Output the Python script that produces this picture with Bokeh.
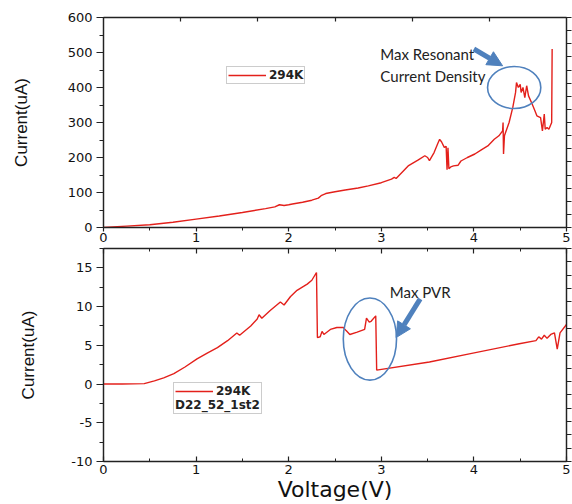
from bokeh.plotting import figure
from bokeh.models import (Range1d, LinearAxis, FixedTicker, Legend, LegendItem,
                          Arrow, NormalHead, Label, CustomJSTickFormatter)
from bokeh.layouts import column
from bokeh.embed import file_html
from bokeh.resources import INLINE

# ---------------- data ----------------
series_name = "294K"
sample_name = "D22_52_1st2"

top_v = [0.00, 0.25, 0.50, 0.75, 1.00, 1.25, 1.50, 1.75, 1.85, 1.90,
         1.95, 2.00, 2.04, 2.15, 2.25, 2.32, 2.35, 2.40, 2.50, 2.61,
         2.75, 2.86, 3.00, 3.11, 3.14, 3.16, 3.29, 3.40, 3.47, 3.50,
         3.52, 3.57, 3.61, 3.63, 3.65, 3.68, 3.70, 3.71, 3.72, 3.73,
         3.75, 3.78, 3.83, 3.86, 3.93, 4.01, 4.08, 4.15, 4.22, 4.27,
         4.31, 4.315, 4.32, 4.33, 4.34, 4.38, 4.42, 4.45, 4.46, 4.48,
         4.50, 4.51, 4.53, 4.55, 4.57, 4.59, 4.63, 4.66, 4.68, 4.72,
         4.74, 4.76, 4.77, 4.79, 4.81, 4.84, 4.845]
top_i = [0, 4, 8, 15, 24, 33, 43, 54, 59, 65,
         63, 65, 67, 72, 78, 84, 91, 97, 102, 107,
         113, 119, 128, 138, 143, 140, 176, 193, 205, 200,
         191, 214, 240, 252, 245, 229, 232, 165, 228, 168,
         173, 176, 178, 190, 200, 210, 222, 233, 252, 262,
         276, 300, 210, 262, 270, 300, 343, 386, 414, 400,
         409, 386, 400, 371, 405, 376, 352, 333, 319, 314,
         276, 324, 281, 286, 281, 300, 510]

bot_v = [0.00, 0.20, 0.44, 0.55, 0.65, 0.76, 0.88, 1.01, 1.12, 1.23,
         1.34, 1.44, 1.47, 1.59, 1.66, 1.68, 1.71, 1.80, 1.91, 1.95,
         2.02, 2.09, 2.16, 2.20, 2.25, 2.30, 2.31, 2.34, 2.36, 2.38,
         2.45, 2.52, 2.59, 2.62, 2.66, 2.74, 2.82, 2.84, 2.87, 2.89,
         2.94, 2.95, 3.52, 3.95, 4.49, 4.67, 4.70, 4.73, 4.76, 4.79,
         4.83, 4.87, 4.90, 4.93, 5.00]
bot_i = [0.0, 0.0, 0.05, 0.4, 0.8, 1.35, 2.2, 3.25, 4.0, 4.7,
         5.6, 6.6, 6.3, 7.5, 8.4, 8.95, 8.5, 9.5, 10.6, 10.2,
         11.3, 12.1, 12.6, 12.9, 13.4, 14.4, 6.0, 6.1, 6.8, 6.4,
         7.05, 7.3, 7.3, 6.9, 6.4, 6.7, 7.05, 8.5, 8.0, 8.1,
         8.8, 1.8, 2.85, 3.9, 5.2, 5.6, 6.1, 5.8, 6.3, 5.9,
         6.4, 6.6, 4.5, 6.6, 7.7]

x_ticks = [0, 1, 2, 3, 4, 5]
top_y_ticks = [0, 100, 200, 300, 400, 500, 600]
bot_y_ticks = [-10, -5, 0, 5, 10, 15]

# ---------------- style ----------------
RED = "#e3201b"
BLUE = "#4f81bd"
TICK_FONT = "DejaVu Sans"
AX_COLOR = "#222222"


def midpoints(t):
    return [(a + b) / 2 for a, b in zip(t[:-1], t[1:])]


def make_axis(ticks, minor, labels=True, tin=0, tout=0, mtin=0, mtout=0, standoff=3):
    ax = LinearAxis(ticker=FixedTicker(ticks=ticks, minor_ticks=minor))
    ax.major_tick_in = tin
    ax.major_tick_out = tout
    ax.minor_tick_in = mtin
    ax.minor_tick_out = mtout
    ax.axis_line_color = AX_COLOR
    ax.axis_line_width = 1.3
    ax.major_tick_line_color = AX_COLOR
    ax.minor_tick_line_color = AX_COLOR
    ax.major_tick_line_width = 1.2
    ax.minor_tick_line_width = 1.0
    if labels:
        ax.formatter = CustomJSTickFormatter(code="return tick.toFixed(0)")
        ax.major_label_text_font = TICK_FONT
        ax.major_label_text_font_size = "13px"
        ax.major_label_text_color = "#111111"
        ax.major_label_standoff = standoff
    else:
        ax.formatter = CustomJSTickFormatter(code="return ''")
        ax.major_label_text_font_size = "0px"
        ax.major_label_standoff = 0
    return ax


def split_ticks(lo, hi, n):
    step = (hi - lo) / n
    pts = [lo + k * step for k in range(n + 1)]
    return pts[::2], pts[1::2]


def base_fig(h, xr, yr, left, right, top, bottom):
    p = figure(width=572, height=h, x_range=xr, y_range=yr,
               toolbar_location=None, output_backend="svg",
               x_axis_location=None, y_axis_location=None,
               min_border_left=left, min_border_right=right,
               min_border_top=top, min_border_bottom=bottom)
    p.grid.visible = False
    p.outline_line_color = AX_COLOR
    p.outline_line_width = 1.2
    p.background_fill_color = "white"
    p.border_fill_color = "white"
    return p


def legend_common():
    return dict(padding=1, margin=0, spacing=0,
                glyph_width=38, glyph_height=12, label_standoff=3, label_height=12,
                label_text_font=TICK_FONT, label_text_font_size="12px",
                label_text_font_style="bold", label_text_color="#222222",
                border_line_color="#9a9a9a", border_line_width=1,
                background_fill_color="white", background_fill_alpha=1)


def style_ylabel(ax, standoff):
    ax.axis_label = "Current(uA)"
    ax.axis_label_text_font = "Liberation Sans"
    ax.axis_label_text_font_size = "17px"
    ax.axis_label_text_font_style = "normal"
    ax.axis_label_text_color = "#111111"
    ax.axis_label_standoff = standoff


# ================= top panel =================
p1 = base_fig(244, Range1d(0, 5), Range1d(0, 600), 100, 6, 17, 17)

b1 = make_axis(x_ticks, midpoints(x_ticks), tout=4, mtout=3, standoff=1)
p1.add_layout(b1, "below")
l1 = make_axis(top_y_ticks, midpoints(top_y_ticks), tout=7, mtout=4, standoff=4)
style_ylabel(l1, 34)
p1.add_layout(l1, "left")
a1 = make_axis([k * 5 / 6 for k in range(1, 6)], [], labels=False, tin=4)
p1.add_layout(a1, "above")
rmaj, rmin = split_ticks(0, 600, 16)
r1 = make_axis(rmaj, rmin, labels=False, tout=5, mtout=5)
p1.add_layout(r1, "right")

line1 = p1.line(top_v, top_i, line_color=RED, line_width=1.4)

leg1 = Legend(items=[LegendItem(label=series_name, renderers=[line1])],
              location=(123, 143), **legend_common())
p1.add_layout(leg1)

p1.ellipse(x=[4.435], y=[400], width=[0.575], height=[120],
           fill_color=None, line_color=BLUE, line_width=1.6)
p1.add_layout(Arrow(end=NormalHead(size=15, fill_color=BLUE, line_color=BLUE),
                    x_start=4.0, y_start=510, x_end=4.31, y_end=462,
                    line_color=BLUE, line_width=5))
for txt, yy in (("Max Resonant", 497), ("Current Density", 433)):
    p1.add_layout(Label(x=2.99, y=yy, text=txt, text_font="Lato",
                        text_font_size="15px", text_align="left",
                        text_baseline="middle", text_color="#222222"))

# ================= bottom panel =================
p2 = base_fig(260, Range1d(0, 5), Range1d(-10, 17.5), 103, 5, 4, 40)

b2 = make_axis(x_ticks, midpoints(x_ticks), tin=5, mtin=3, standoff=3)
b2.axis_label = "Voltage(V)"
b2.axis_label_text_font = TICK_FONT
b2.axis_label_text_font_size = "22px"
b2.axis_label_text_font_style = "normal"
b2.axis_label_text_color = "#111111"
b2.axis_label_standoff = 0
p2.add_layout(b2, "below")
l2 = make_axis(bot_y_ticks, midpoints(bot_y_ticks) + [15 + 2.5], tout=7, mtout=4, standoff=4)
style_ylabel(l2, 30)
p2.add_layout(l2, "left")
a2 = make_axis(x_ticks, midpoints(x_ticks), labels=False, tin=5, mtin=3)
p2.add_layout(a2, "above")
rmaj2, rmin2 = split_ticks(-10, 17.5, 16)
r2 = make_axis(rmaj2, rmin2, labels=False, tout=5, mtout=5)
p2.add_layout(r2, "right")

line2 = p2.line(bot_v, bot_i, line_color=RED, line_width=1.4)

leg2 = Legend(items=[LegendItem(label=series_name, renderers=[line2])],
              location=(70, 47),
              title=sample_name, title_location="below", title_standoff=0,
              title_text_font=TICK_FONT, title_text_font_size="12px",
              title_text_font_style="bold", title_text_color="#222222",
              **legend_common())
p2.add_layout(leg2)

p2.ellipse(x=[2.877], y=[5.8], width=[0.575], height=[10.6],
           fill_color=None, line_color=BLUE, line_width=1.6)
p2.add_layout(Arrow(end=NormalHead(size=15, fill_color=BLUE, line_color=BLUE),
                    x_start=3.42, y_start=11.0, x_end=3.16, y_end=6.0,
                    line_color=BLUE, line_width=5))
p2.add_layout(Label(x=3.42, y=11.9, text="Max PVR", text_font="Lato",
                    text_font_size="15px", text_align="center",
                    text_baseline="middle", text_color="#222222"))

layout = column(p1, p2, spacing=0)
open("out.html", "w").write(file_html(layout, INLINE))
